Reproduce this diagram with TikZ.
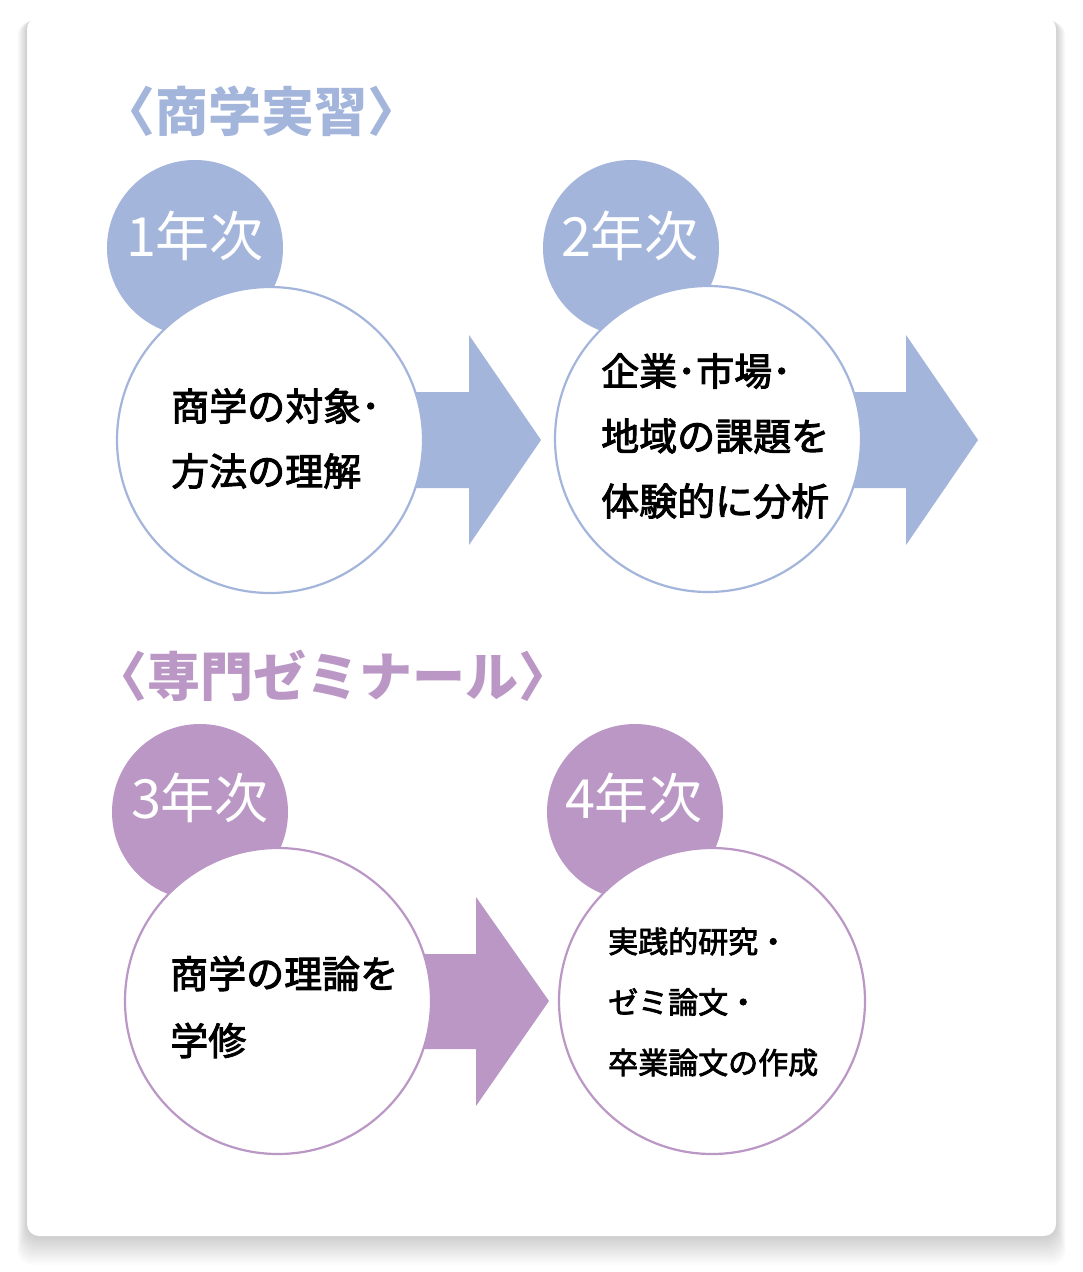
\documentclass[tikz,border=0pt]{standalone}
\usepackage{fontspec}
\newfontfamily\jp{Noto Sans CJK JP}
\newfontface\jpm[FakeBold=2.5]{Noto Sans CJK JP}
\definecolor{bl}{RGB}{164,181,220}
\definecolor{pu}{RGB}{186,151,197}
\begin{document}
\begin{tikzpicture}[x=1pt,y=-1pt,
  yearc/.style={circle,fill=#1,minimum size=176pt,inner sep=0pt},
  bigc/.style={circle,draw=#1,line width=2.2pt,fill=white,minimum size=306pt,inner sep=0pt},
  yeart/.style={text=white,font=\jp\fontsize{54}{60}\selectfont,inner sep=0pt},
  titlet/.style={text=#1,font=\jp\bfseries\fontsize{53}{60}\selectfont,inner sep=0pt},
  bodyt/.style={align=left,font=\jpm\fontsize{38}{65}\selectfont,inner sep=0pt,anchor=west},
  bodys/.style={align=left,font=\jpm\fontsize{30}{60.5}\selectfont,inner sep=0pt,anchor=west}]
\useasboundingbox (0,0) rectangle (1083,1272);
\fill[white] (0,0) rectangle (1083,1272);
% card shadow and card
\foreach \i in {1,...,16}
  \fill[black,opacity=0.011,rounded corners=14pt] (27-\i*0.6,17+\i*0.3) rectangle (1056+\i*0.6,1236+\i*1.8);
\fill[white,rounded corners=12pt] (27,17) rectangle (1056,1236);

% titles
\node[titlet=bl] (title1) at (261.5,111) {\kern-0.5em〈商学実習〉\kern-0.5em};
\node[titlet=pu] (title2) at (332.5,676) {\kern-0.5em〈専門ゼミナール〉\kern-0.5em};

% year circles
\node[yearc=bl] (s1) at (195,248) {};
\node[yearc=bl] (s2) at (631,248) {};
\node[yearc=pu] (s3) at (200,812) {};
\node[yearc=pu] (s4) at (635,812) {};

% arrows
\fill[bl] (400,392) -- (469,392) -- (469,335) -- (541,440) -- (469,545) -- (469,488) -- (400,488) -- cycle;
\fill[bl] (840,392) -- (906,392) -- (906,335) -- (978,440) -- (906,545) -- (906,488) -- (840,488) -- cycle;
\fill[pu] (410,954) -- (476,954) -- (476,897) -- (549,1001) -- (476,1106) -- (476,1049) -- (410,1049) -- cycle;

% big circles
\node[bigc=bl] (b1) at (270,440) {};
\node[bigc=bl] (b2) at (708,439) {};
\node[bigc=pu] (b3) at (278,1001) {};
\node[bigc=pu] (b4) at (712,1001) {};

% year labels
\node[yeart] (y1) at (195,236) {1年次};
\node[yeart] (y2) at (630,236) {2年次};
\node[yeart] (y3) at (200,798) {3年次};
\node[yeart] (y4) at (634,798) {4年次};

% body texts
\node[bodyt] (t1) at (171,438.5) {商学の対象･\\方法の理解};
\node[bodyt] (t2) at (601,436) {企業･市場･\\地域の課題を\\体験的に分析};
\node[bodyt,font=\jpm\fontsize{38}{67}\selectfont] (t3) at (170,1007) {商学の理論を\\学修};
\node[bodys] (t4) at (608,1002) {実践的研究・\\ゼミ論文・\\卒業論文の作成};
\end{tikzpicture}
\end{document}
